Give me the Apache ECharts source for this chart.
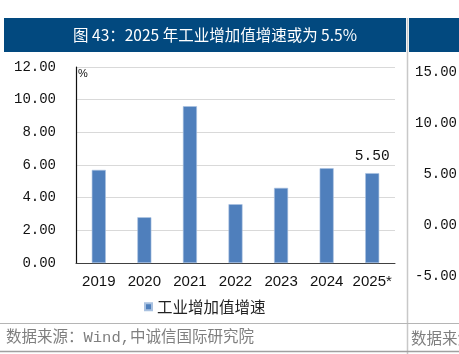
<!DOCTYPE html>
<html>
<head>
<meta charset="utf-8">
<script src="https://cdn.jsdelivr.net/npm/echarts@6/dist/echarts.min.js"></script>
<style>
  html, body { margin: 0; padding: 0; background: #fff; }
  #main { width: 459px; height: 354px; }
</style>
</head>
<body>
<div id="main"></div>
<script>
// chart data
const years = ['2019', '2020', '2021', '2022', '2023', '2024', '2025*'];
const growth = [5.7, 2.8, 9.6, 3.6, 4.6, 5.8, 5.5];
const seriesName = '工业增加值增速';
const titleText = '图 43：2025 年工业增加值增速或为 5.5%';
const sourceText = '数据来源：Wind,中诚信国际研究院';

const monoFont = '"Liberation Mono", "Noto Sans CJK SC", monospace';
const cjkFont = '"Noto Sans CJK SC", "Liberation Mono", sans-serif';

let chart = echarts.init(document.getElementById('main'));

chart.setOption({
    animation: false,
    backgroundColor: '#fff',
    graphic: [
        { type: 'rect', shape: { x: 4, y: 18, width: 402, height: 34 }, style: { fill: '#02497f' } },
        { type: 'rect', shape: { x: 409, y: 18, width: 60, height: 34 }, style: { fill: '#02497f' } },
        { type: 'line', shape: { x1: 407.5, y1: 18, x2: 407.5, y2: 354 }, style: { stroke: '#c8c8c8', lineWidth: 1.5 } },
        { type: 'line', shape: { x1: 0, y1: 323.5, x2: 459, y2: 323.5 }, style: { stroke: '#b5b5b5', lineWidth: 1 } },
        { type: 'line', shape: { x1: 0, y1: 351.5, x2: 459, y2: 351.5 }, style: { stroke: '#a0a0a0', lineWidth: 1.5 } },
        {
            type: 'text', x: 215, y: 35,
            style: { text: titleText, fill: '#fff', font: '15.5px ' + cjkFont, align: 'center', verticalAlign: 'middle' }
        },
        {
            type: 'text', x: 6, y: 338,
            style: { text: sourceText, fill: '#7f7f7f', font: '15.5px ' + monoFont, verticalAlign: 'middle' }
        },
        {
            type: 'text', x: 411, y: 338,
            style: { text: '数据来源', fill: '#7f7f7f', font: '15.5px ' + cjkFont, verticalAlign: 'middle' }
        }
    ],
    legend: {
        data: [seriesName],
        left: 139,
        top: 294,
        icon: 'rect',
        itemWidth: 7,
        itemHeight: 7,
        itemGap: 4,
        textStyle: { fontSize: 15.5, color: '#222', fontFamily: cjkFont }
    },
    grid: [
        { left: 76, right: 64, top: 67, bottom: 91 },
        { left: 463, width: 100, top: 72, bottom: 78 }
    ],
    xAxis: [
        {
            type: 'category',
            data: years,
            gridIndex: 0,
            axisLine: { lineStyle: { color: '#404040', width: 1 } },
            axisTick: { show: false },
            axisLabel: { interval: 0, color: '#111', fontSize: 15, margin: 11, fontFamily: '"Liberation Sans", Arial, sans-serif' }
        },
        {
            type: 'category', gridIndex: 1, data: [''],
            axisLine: { show: false }, axisTick: { show: false }, axisLabel: { show: false }
        }
    ],
    yAxis: [
        {
            type: 'value',
            gridIndex: 0,
            min: 0,
            max: 12,
            interval: 2,
            name: '%',
            nameLocation: 'end',
            nameGap: -12,
            nameTextStyle: { color: '#111', fontSize: 11, align: 'left', padding: [0, 0, 0, 2] },
            axisLine: { show: true, lineStyle: { color: '#111', width: 1.2 } },
            axisTick: { show: false },
            splitLine: { lineStyle: { color: '#d9d9d9', width: 1 } },
            axisLabel: {
                color: '#111', fontSize: 14, margin: 20, fontFamily: monoFont,
                formatter: v => v.toFixed(2)
            }
        },
        {
            type: 'value',
            gridIndex: 1,
            min: -5,
            max: 15,
            interval: 5,
            axisLine: { show: false },
            axisTick: { show: false },
            splitLine: { show: false },
            axisLabel: {
                color: '#111', fontSize: 14, margin: 6, fontFamily: monoFont,
                formatter: v => v.toFixed(2)
            }
        }
    ],
    series: [
        {
            name: seriesName,
            type: 'bar',
            data: growth.map((v, i) => i === growth.length - 1
                ? { value: v, label: { show: true } }
                : v),
            barWidth: 14,
            itemStyle: { color: '#4f7fbc', borderColor: '#a9c1e0', borderWidth: 0.6 },
            label: {
                show: false,
                position: 'top',
                distance: 10,
                color: '#111',
                fontSize: 14.5,
                fontFamily: monoFont,
                formatter: p => p.value.toFixed(2)
            }
        }
    ]
});
</script>
</body>
</html>
